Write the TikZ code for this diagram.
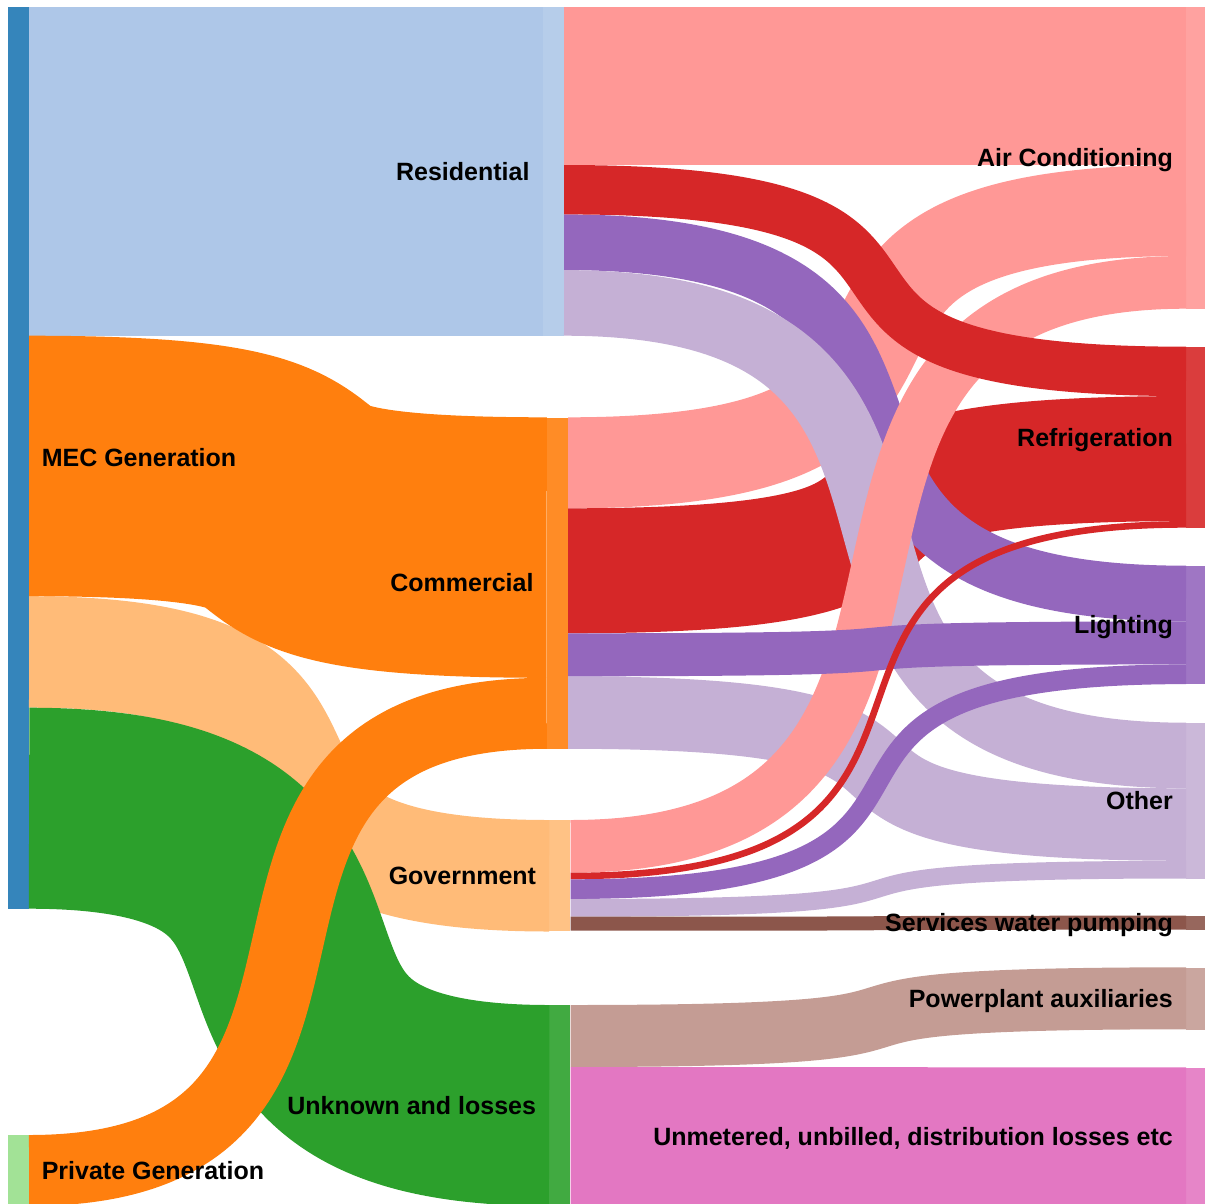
\documentclass[tikz,border=0pt]{standalone}
\usepackage{fontspec}
\setmainfont{Liberation Sans}
\usetikzlibrary{calc,positioning}

\definecolor{mecblue}{HTML}{1F77B4}
\definecolor{privgreen}{HTML}{98DF8A}
\definecolor{resblue}{HTML}{AEC7E8}
\definecolor{comorange}{HTML}{FF7F0E}
\definecolor{govorange}{HTML}{FFBB78}
\definecolor{unkgreen}{HTML}{2CA02C}
\definecolor{acpink}{HTML}{FF9896}
\definecolor{refred}{HTML}{D62728}
\definecolor{litpurple}{HTML}{9467BD}
\definecolor{othlilac}{HTML}{C5B0D5}
\definecolor{watbrown}{HTML}{8C564B}
\definecolor{powtan}{HTML}{C49C94}
\definecolor{unmpink}{HTML}{E377C2}

\begin{document}
\begin{tikzpicture}[
    x=1pt, y=-1pt,
    bar/.style={rectangle, inner sep=0pt, minimum width=21pt, anchor=north west, fill=#1!90!white},
    lbl/.style={inner sep=0pt, font=\fontsize{25}{29}\selectfont\bfseries}
]
\clip (0,0) rectangle (1205,1203);

% sources
\node[bar=mecblue, minimum height=902pt] (mec) at (7.7,6.7) {};
\node[bar=privgreen, minimum height=71pt] (priv) at (7.7,1135) {};
% sectors
\node[bar=resblue, minimum height=329pt] (res) at (542.7,6.7) {};
\node[bar=comorange, minimum height=331.5pt] (com) at (546.7,417.3) {};
\node[bar=govorange, minimum height=111pt] (gov) at (549.2,820) {};
\node[bar=unkgreen, minimum height=201pt] (unk) at (549.2,1005) {};
% end uses
\node[bar=acpink, minimum height=302pt] (ac) at (1186,6.7) {};
\node[bar=refred, minimum height=181pt] (ref) at (1186,346.7) {};
\node[bar=litpurple, minimum height=118.4pt] (lit) at (1186,565.7) {};
\node[bar=othlilac, minimum height=155.8pt] (oth) at (1186,722.7) {};
\node[bar=watbrown, minimum height=14pt] (wat) at (1186,915.7) {};
\node[bar=powtan, minimum height=62pt] (pow) at (1186,967.3) {};
\node[bar=unmpink, minimum height=139pt] (unm) at (1186,1067.3) {};

% flows: colour / source / offset / target / offset / width
\foreach \col/\src/\soff/\tgt/\toff/\bw in {
    resblue/mec/0/res/0/329,
    govorange/mec/589.5/gov/0/111.5,
    unkgreen/mec/701/unk/0/201,
    comorange/mec/329/com/0/260.5,
    comorange/priv/0/com/260.5/71,
    acpink/res/0/ac/0/158.3,
    acpink/com/0/ac/158.3/91,
    refred/com/91/ref/49.4/125,
    othlilac/com/259/oth/65.6/72.5,
    litpurple/res/207.7/lit/0/55.7,
    othlilac/res/263.4/oth/0/65.6,
    acpink/gov/0/ac/249.3/52.7,
    refred/res/158.3/ref/0/49.4,
    litpurple/com/216/lit/55.7/43,
    refred/gov/52.7/ref/174.4/6.6,
    litpurple/gov/59.3/lit/98.7/19.7,
    othlilac/gov/79/oth/138.1/17.7,
    watbrown/gov/96.7/wat/0/14,
    powtan/unk/0/pow/0/62,
    unmpink/unk/62/unm/0/139}{
  \path (\src.north east) ++(0,\soff+\bw/2) coordinate (fs)
        (\tgt.north west) ++(0,\toff+\bw/2) coordinate (ft);
  \path ($(fs)!0.8!(ft)$) coordinate (fa)
        ($(fs)!0.2!(ft)$) coordinate (fb);
  \draw[\col, line width=\bw pt] (fs) .. controls (fa |- fs) and (fb |- ft) .. (ft);
}

% labels
\node[lbl, anchor=base west] (mec-t) at ([xshift=12.5pt, yshift=-8.7pt]mec.east) {MEC Generation};
\node[lbl, anchor=base west] (priv-t) at ([xshift=12.5pt, yshift=-8.7pt]priv.east) {Private Generation};
\node[lbl, anchor=base east] (res-t) at ([xshift=-13pt, yshift=-8.7pt]res.west) {Residential};
\node[lbl, anchor=base east] (com-t) at ([xshift=-13pt, yshift=-8.7pt]com.west) {Commercial};
\node[lbl, anchor=base east] (gov-t) at ([xshift=-13pt, yshift=-8.7pt]gov.west) {Government};
\node[lbl, anchor=base east] (unk-t) at ([xshift=-13pt, yshift=-8.7pt]unk.west) {Unknown and losses};
\node[lbl, anchor=base east] (ac-t) at ([xshift=-13pt, yshift=-8.7pt]ac.west) {Air Conditioning};
\node[lbl, anchor=base east] (ref-t) at ([xshift=-13pt, yshift=-8.7pt]ref.west) {Refrigeration};
\node[lbl, anchor=base east] (lit-t) at ([xshift=-13pt, yshift=-8.7pt]lit.west) {Lighting};
\node[lbl, anchor=base east] (oth-t) at ([xshift=-13pt, yshift=-8.7pt]oth.west) {Other};
\node[lbl, anchor=base east] (wat-t) at ([xshift=-13pt, yshift=-8.7pt]wat.west) {Services water pumping};
\node[lbl, anchor=base east] (pow-t) at ([xshift=-13pt, yshift=-8.7pt]pow.west) {Powerplant auxiliaries};
\node[lbl, anchor=base east] (unm-t) at ([xshift=-13pt, yshift=-8.7pt]unm.west) {Unmetered, unbilled, distribution losses etc};
\end{tikzpicture}
\end{document}
